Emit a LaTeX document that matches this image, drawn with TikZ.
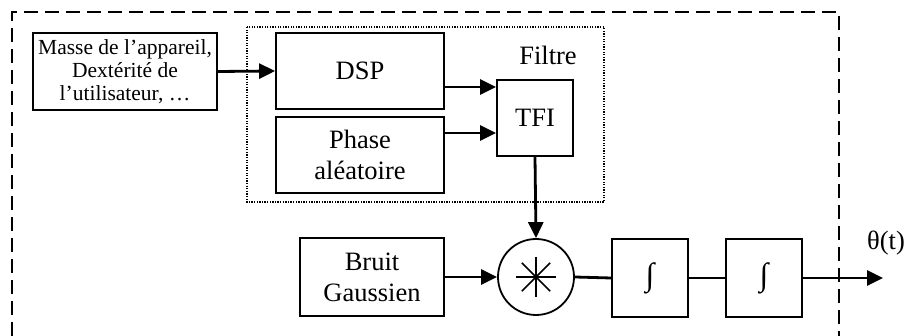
\documentclass[tikz,border=0pt]{standalone}
\usepackage{fontspec}
\setmainfont{Liberation Serif}
\usetikzlibrary{arrows.meta}
\tikzset{
  box/.style={draw,line width=1.8pt,align=center,inner sep=0pt},
  arr/.style={-{Triangle[length=16pt,width=15pt]},line width=2.8pt},
  link/.style={line width=2.8pt},
  big/.style={font=\fontsize{26.5}{31}\selectfont},
  small/.style={font=\fontsize{21.5}{23}\selectfont}
}
\begin{document}
\begin{tikzpicture}[x=1pt,y=-1pt]
\useasboundingbox (0,0) rectangle (908,336);
\draw [dash pattern=on 14pt off 7pt][line width=2pt] (12,336) -- (12,12) -- (839,12) -- (839,336);
\draw [dash pattern=on 1.3pt off 1.3pt][line width=1.5pt] (247,27) rectangle (604,202);
\node [box,small,minimum width=184pt,minimum height=77pt] (masse) at (125,71.5) {Masse de l’appareil,\\Dextérité de\\l’utilisateur, …};
\node [box,big,minimum width=168pt,minimum height=76pt] (dsp) at (360,71) {DSP};
\node [box,big,minimum width=168pt,minimum height=76pt] (phase) at (360,155) {Phase\\aléatoire};
\node [box,big,minimum width=76pt,minimum height=76pt] (tfi) at (535,118) {TFI};
\node [big] (filtre) at (548,55) {Filtre};
\node [box,big,minimum width=144pt,minimum height=78pt] (bruit) at (372,277) {Bruit\\Gaussien};
\node [draw,circle,line width=1.8pt,minimum size=76pt,inner sep=0pt] (mult) at (536,277) {};
\foreach \a in {0,45,90,135}
  \draw [line width=1.5pt] (mult) +(\a:20pt) -- +(\a+180:20pt);
\node [box,minimum width=76pt,minimum height=78pt,font=\fontsize{32}{34}\selectfont] (int1) at (650,278) {∫};
\node [box,minimum width=76pt,minimum height=78pt,font=\fontsize{32}{34}\selectfont] (int2) at (764,278) {∫};
\coordinate (out) at (883,278);
\node [big] (theta) at (886,243) {θ(t)};
\coordinate (tin1) at ([yshift=31pt]tfi.west);
\coordinate (tin2) at ([yshift=-15pt]tfi.west);
\draw [arr] (masse.east) -- (dsp.west);
\draw [arr] (tin1 -| dsp.east) -- (tin1);
\draw [arr] (tin2 -| phase.east) -- (tin2);
\draw [arr] (tfi.south) -- (mult.north);
\draw [arr] (bruit.east) -- (mult.west);
\draw [link] (mult.east) -- (int1.west);
\draw [link] (int1.east) -- (int2.west);
\draw [arr] (int2.east) -- (out);
\end{tikzpicture}
\end{document}
